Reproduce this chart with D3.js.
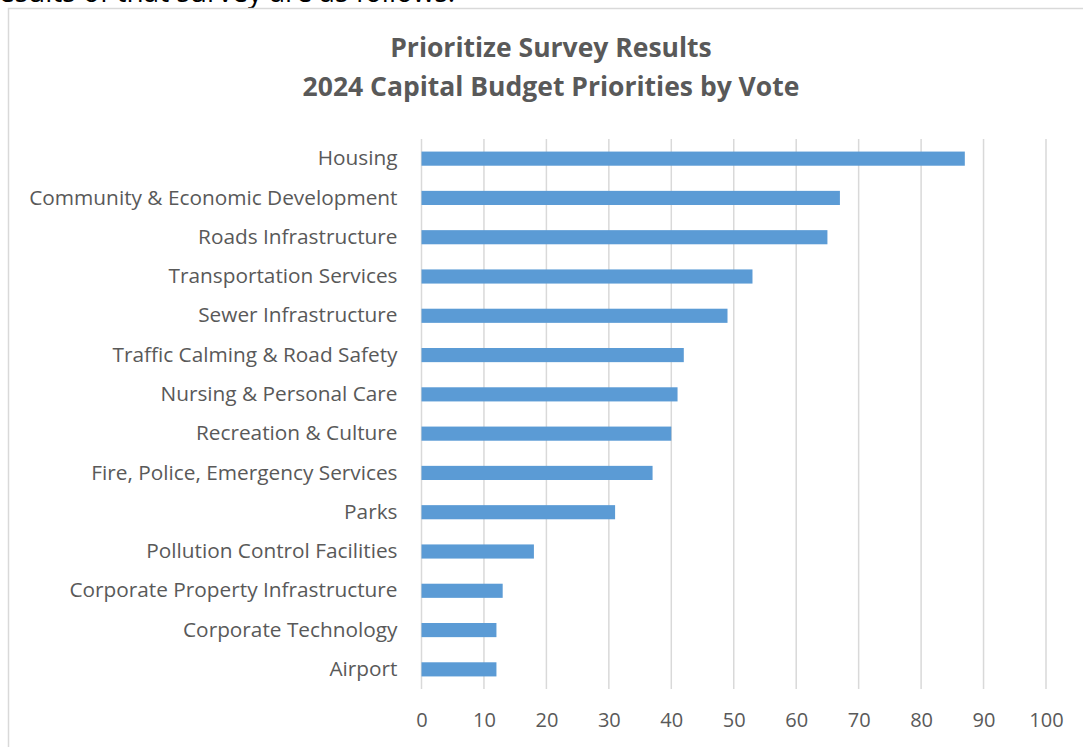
<!DOCTYPE html>
<html>
<head>
<meta charset="utf-8">
<script src="https://cdn.jsdelivr.net/npm/d3@7"></script>
<style>
  body { margin: 0; background: #fff; }
  svg { display: block; }
</style>
</head>
<body>
<svg id="chart"></svg>
<script>
// Data
var categories = [
  'Housing',
  'Community & Economic Development',
  'Roads Infrastructure',
  'Transportation Services',
  'Sewer Infrastructure',
  'Traffic Calming & Road Safety',
  'Nursing & Personal Care',
  'Recreation & Culture',
  'Fire, Police, Emergency Services',
  'Parks',
  'Pollution Control Facilities',
  'Corporate Property Infrastructure',
  'Corporate Technology',
  'Airport'
]
var votes = [87, 67, 65, 53, 49, 42, 41, 40, 37, 31, 18, 13, 12, 12]
var xTicks = [0, 10, 20, 30, 40, 50, 60, 70, 80, 90, 100]
var titleLines = ['Prioritize Survey Results', '2024 Capital Budget Priorities by Vote']

var width = 1083
var height = 747
var font = '"Open Sans", sans-serif'
var plot = { left: 421.5, right: 1046, top: 139, bottom: 689 }

var svg = d3.select('#chart').attr('width', width).attr('height', height)

// leftover line of the document above the chart
svg.append('text')
  .attr('x', -1)
  .attr('y', 2)
  .attr('font-family', font)
  .attr('font-size', 28)
  .attr('fill', '#000')
  .text('esults of that survey are as follows:')

// chart frame
svg.append('rect')
  .attr('x', 8.5).attr('y', 8.5)
  .attr('width', 1200).attr('height', 900)
  .attr('fill', '#fff')
  .attr('stroke', '#d9d9d9')
  .attr('stroke-width', 1.5)

var x = d3.scaleLinear().domain([0, 100]).range([plot.left, plot.right])
var y = d3.scaleBand().domain(categories).range([plot.top, plot.bottom]).paddingInner(0.64).paddingOuter(0.32)

// title
svg.append('g').selectAll('text')
  .data(titleLines)
  .join('text')
  .attr('x', 551)
  .attr('y', function (d, i) { return 57 + i * 39 })
  .attr('text-anchor', 'middle')
  .attr('font-family', font)
  .attr('font-weight', 'bold')
  .attr('font-size', 26.5)
  .attr('fill', '#595959')
  .text(function (d) { return d })

// vertical gridlines
svg.append('g').selectAll('line')
  .data(xTicks)
  .join('line')
  .attr('x1', function (d) { return x(d) })
  .attr('x2', function (d) { return x(d) })
  .attr('y1', plot.top)
  .attr('y2', plot.bottom)
  .attr('stroke', '#d9d9d9')
  .attr('stroke-width', 1.5)

// bars
svg.append('g').selectAll('rect')
  .data(categories)
  .join('rect')
  .attr('x', x(0))
  .attr('y', function (d) { return y(d) })
  .attr('height', y.bandwidth())
  .attr('width', function (d, i) { return x(votes[i]) - x(0) })
  .attr('fill', '#5b9bd5')

// category labels
var yAxis = svg.append('g')
  .attr('transform', 'translate(' + plot.left + ',0)')
  .call(d3.axisLeft(y).tickSize(0).tickPadding(24))
yAxis.select('.domain').remove()
yAxis.selectAll('text')
  .attr('font-family', font)
  .attr('font-size', 20.8)
  .attr('fill', '#595959')

// value axis
var xAxis = svg.append('g')
  .attr('transform', 'translate(0,' + plot.bottom + ')')
  .call(d3.axisBottom(x).tickValues(xTicks).tickSize(0).tickPadding(24))
xAxis.select('.domain').remove()
xAxis.selectAll('text')
  .attr('font-family', font)
  .attr('font-size', 20)
  .attr('fill', '#595959')
</script>
</body>
</html>
